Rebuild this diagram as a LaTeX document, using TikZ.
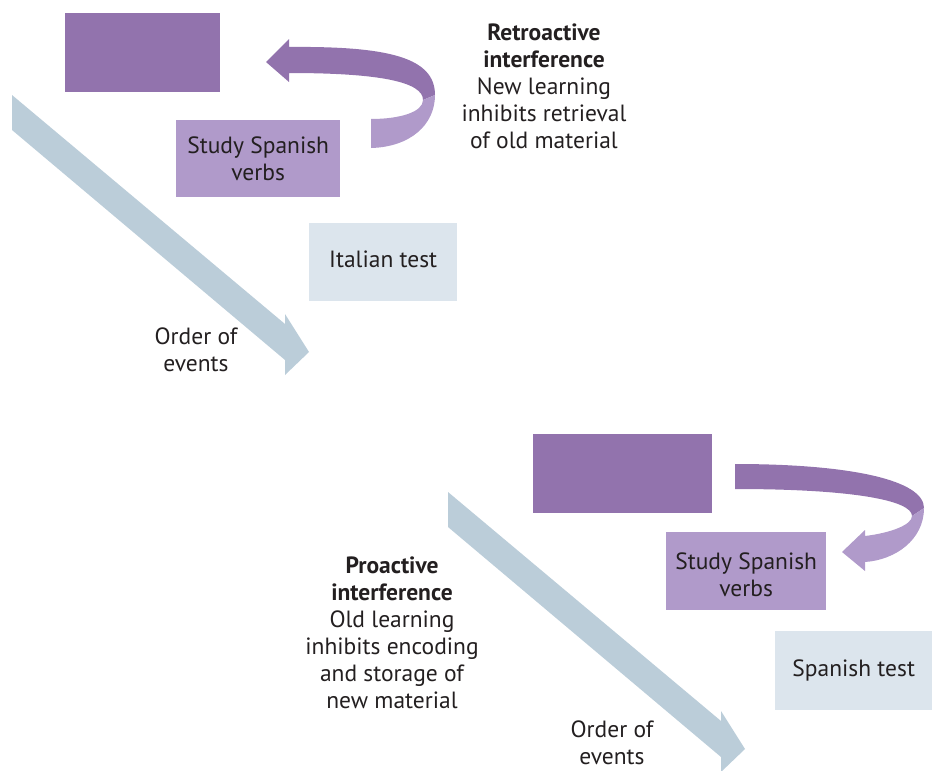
\documentclass[tikz,border=0pt]{standalone}
\usepackage{fontspec}
\setmainfont{PT Sans}
\definecolor{deeppurple}{HTML}{9273AD}
\definecolor{softpurple}{HTML}{B09ACA}
\definecolor{testgrey}{HTML}{DCE5ED}
\definecolor{timeblue}{HTML}{BBCDD9}
\definecolor{inktext}{HTML}{231F20}
\begin{document}
\begin{tikzpicture}[x=1pt,y=-1pt,
  font=\fontsize{23.5}{26.7}\selectfont, text=inktext,
  block/.style={anchor=north west, inner sep=0pt, align=center},
  oldblock/.style={block, fill=deeppurple},
  newblock/.style={block, fill=softpurple},
  testblock/.style={block, fill=testgrey},
  caption/.style={align=center, inner sep=0pt, font=\fontsize{23.5}{27}\selectfont},
  timefill/.style={fill=timeblue},
]
\useasboundingbox (0,0) rectangle (935,771);

% diagonal "order of events" arrow, drawn from its upper-left corner
\newcommand\orderarrow[1]{%
  \begin{scope}[shift={#1}]
    \fill[timefill] (0,0) -- (273,229) -- (273,219) -- (297,257)
      -- (273,280) -- (273,265) -- (0,35) -- cycle;
  \end{scope}}

%% ---------------- retroactive interference ----------------
\orderarrow{(12,95)}
\node[oldblock, minimum width=155pt, minimum height=79pt] (oldA) at (65,13) {};
\node[newblock, minimum width=164pt, minimum height=77pt] (spanA) at (176,120)
  {Study Spanish\\verbs};
\node[testblock, minimum width=148pt, minimum height=78pt,
      text height=17pt, text depth=6pt] (testA) at (309,223)
  {Italian test};
\node[caption] (orderA) at (196,350) {Order of\\events};
\node[caption] (retro) at (544,86.5)
  {\textbf{Retroactive}\\\textbf{interference}\\New learning\\inhibits retrieval\\of old material};

% curved arrow: Spanish study reaches back to the earlier learning
\coordinate (rHead) at (266,62);
\fill[deeppurple] (rHead) -- (289,39) -- (289,47)
  .. controls (390,46) and (435,58) .. (435,95)
  -- (423,100) .. controls (423,82) and (380,73) .. (289,73)
  -- (289,82) -- cycle;
\fill[softpurple] (435,95) .. controls (435,125) and (410,147) .. (371,148)
  -- (371,119) .. controls (400,119) and (423,112) .. (423,100) -- cycle;

%% ---------------- proactive interference ----------------
\orderarrow{(448,492)}
\node[oldblock, minimum width=179pt, minimum height=79pt] (oldB) at (533,434) {};
\node[newblock, minimum width=160pt, minimum height=78pt,
      text height=51pt] (spanB) at (666,532)
  {Study Spanish\\verbs};
\node[testblock, minimum width=157pt, minimum height=79pt] (testB) at (775,631)
  {Spanish test};
\node[caption] (orderB) at (612,743) {Order of\\events};
\node[caption] (pro) at (392,633)
  {\textbf{Proactive}\\\textbf{interference}\\Old learning\\inhibits encoding\\and storage of\\new material};

% curved arrow: earlier learning carries forward onto the Spanish study
\coordinate (pHead) at (842,552);
\fill[deeppurple] (735,464) .. controls (850,464) and (924,480) .. (924,508)
  -- (912,516) .. controls (912,500) and (850,489) .. (735,489) -- cycle;
\fill[softpurple] (924,508) .. controls (924,540) and (895,560) .. (865,562)
  -- (865,571) -- (pHead) -- (865,530) -- (865,536)
  .. controls (890,533) and (912,525) .. (912,516) -- cycle;
\end{tikzpicture}
\end{document}
